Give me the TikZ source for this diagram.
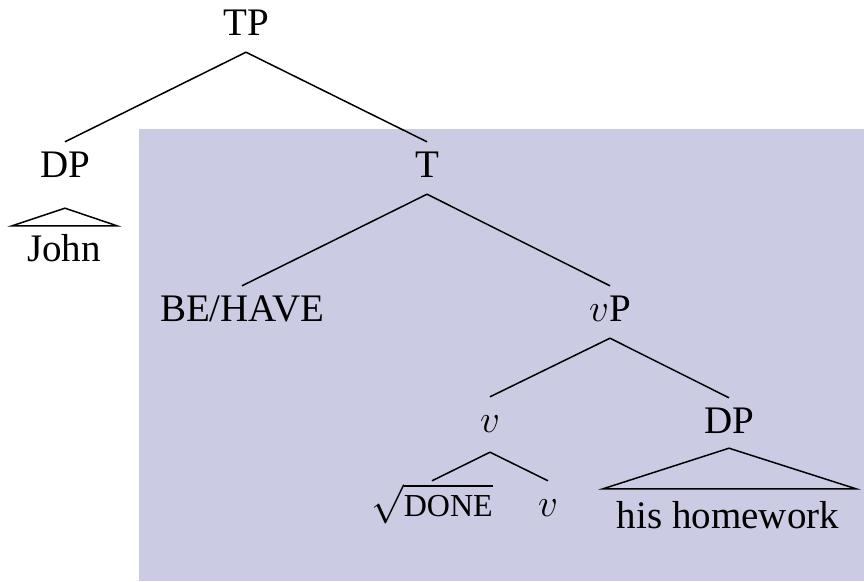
\RequirePackage{fix-cm}
\documentclass[tikz,border=0pt]{standalone}
\usepackage{fontspec}
\setmainfont{LiberationSerif}[Extension=.ttf, UprightFont=*-Regular, BoldFont=*-Bold, ItalicFont=*-Italic]
\usetikzlibrary{calc}
\definecolor{bgshade}{RGB}{203,203,228}
\begin{document}
\begin{tikzpicture}[x=1pt,y=-1pt,
  lab/.style={anchor=base, inner xsep=0pt, inner ysep=9pt, text height=26pt, text depth=8pt, font=\rmfamily\fontsize{39}{47}\selectfont},
  edge/.style={line width=1.5pt},
]
\useasboundingbox (0,0) rectangle (864,581);
\fill[bgshade] (139,129) rectangle (864,581);
\node[lab] (tp) at (246,35) {TP};
\node[lab] (dpl) at (65,177) {DP};
\node[lab] (john) at (64,261) {John};
\node[lab] (t) at (427,177) {T};
\node[lab] (be) at (242,321) {BE/HAVE};
\node[lab] (vp) at (610,321) {$v$P};
\node[lab] (v) at (490,432) {$v$};
\node[lab] (dpr) at (729,433) {DP};
\node[lab] (hw) at (728,528) {his homework};
\node[lab] (done) at (432,516) {$\sqrt{\mbox{\fontsize{32}{38}\selectfont DONE}}$};
\node[lab] (vr) at (548,516) {$v$};
\draw[edge] (tp.south) -- (dpl.north);
\draw[edge] (tp.south) -- (t.north);
\draw[edge] (t.south) -- (be.north);
\draw[edge] (t.south) -- (vp.north);
\draw[edge] (vp.south) -- (v.north);
\draw[edge] (vp.south) -- (dpr.north);
\draw[edge] ($(v.south)+(0,3)$) -- (done.north);
\draw[edge] ($(v.south)+(0,3)$) -- (vr.north);
\draw[edge] ($(dpl.south)+(0,14)$) -- ($(john.north)+(-52,0)$) -- ($(john.north)+(53,0)$) -- cycle;
\draw[edge] ($(dpr.south)+(0,-2)$) -- ($(hw.north)+(-125,-4)$) -- ($(hw.north)+(128,-4)$) -- cycle;
\end{tikzpicture}
\end{document}
